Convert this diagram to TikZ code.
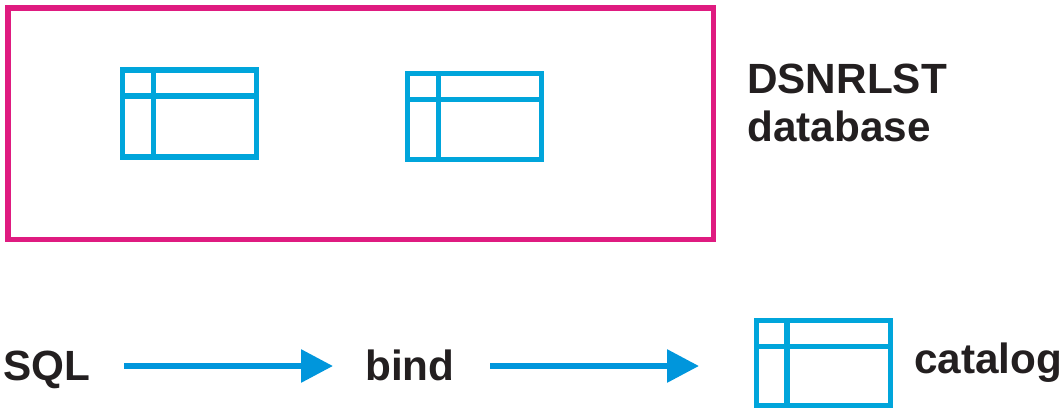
\documentclass[tikz,border=0pt]{standalone}
\usepackage{fontspec}
\setmainfont{Liberation Sans}
\usetikzlibrary{arrows.meta,calc}
\definecolor{tblue}{HTML}{00A5DB}
\definecolor{apink}{HTML}{DF1B80}
\definecolor{ablue}{HTML}{0096DC}
\definecolor{ink}{HTML}{231F20}
\tikzset{
  x=0.75pt,y=-0.75pt,
  lbl/.style={font=\fontsize{31.7}{36}\selectfont\bfseries,text=ink,inner sep=0pt,align=left},
  flow/.style={ablue,line width=4.5pt,-{Triangle[length=24pt,width=24pt]}},
  grid/.style={tblue,line width=4pt},
  pinkbox/.style={draw=apink,line width=3.9pt,inner sep=0pt}
}
\newcommand{\tbl}[4]{% name, x0, y0, height
  \coordinate (#1) at (#2,#3);
  \draw[grid] (#1) rectangle ++(134,#4);
  \draw[grid] ($(#1)+(30.5,0)$) -- ++(0,#4);
  \draw[grid] ($(#1)+(0,26)$) -- ++(134,0);
}
\begin{document}
\begin{tikzpicture}
\useasboundingbox (0,0) rectangle (1063,408);
\draw[pinkbox] (8,8) rectangle (713.5,239.5);
\tbl{a}{122.7}{70}{87}
\tbl{b}{407.7}{73.2}{86.5}
\tbl{c}{756.5}{320.8}{84.7}
\node[lbl,anchor=base west] (db1) at (747,93) {DSNRLST};
\node[lbl,anchor=base west] (db2) at (747,141) {database};
\node[lbl,anchor=base west] (sql) at (3,380) {SQL};
\node[lbl,anchor=base west] (bind) at (365,380) {bind};
\node[lbl,anchor=base west] (cat) at (914,373) {catalog};
\coordinate (s1) at (124,366);
\coordinate (e1) at (333,366);
\coordinate (s2) at (490,366);
\coordinate (e2) at (699,366);
\draw[flow] (s1) -- (e1);
\draw[flow] (s2) -- (e2);
\end{tikzpicture}
\end{document}
